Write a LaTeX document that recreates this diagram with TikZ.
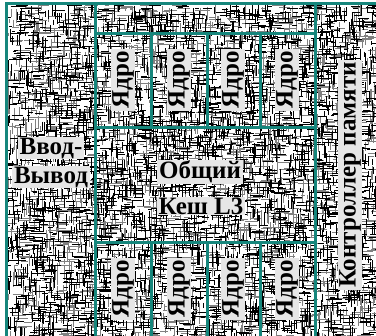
\documentclass[tikz,border=0pt]{standalone}
\usepackage{fontspec}
\setmainfont{Liberation Serif}
\usepackage{tikz}
\usetikzlibrary{positioning}
\definecolor{dieteal}{RGB}{22,134,124}
\definecolor{labgray}{RGB}{230,230,230}
\tikzset{
  wall/.style={draw=dieteal,line width=3pt},
  lab/.style={fill=labgray,inner xsep=2pt,inner ysep=1pt,
              font=\bfseries\fontsize{25}{28}\selectfont},
  vlab/.style={lab,rotate=90},
  grain/.style={line width=0.65pt},
}
\pgfmathsetseed{7}

\begin{document}
\begin{tikzpicture}[x=1pt,y=-1pt]
    \useasboundingbox (0,0) rectangle (376,336);
    % die texture
    \begin{scope}
      \clip (6,4) rectangle (376,336);
      \fill[white] (6,4) rectangle (376,336);
      \draw[grain,black!50] foreach \i in {1,...,2200} {
        ({6+370*rnd},{4+332*rnd}) -- ++({3+12*rnd},0)
        ({6+370*rnd},{4+332*rnd}) -- ++(0,{3+12*rnd}) };
      \draw[grain,black] foreach \i in {1,...,2600} {
        ({6+370*rnd},{4+332*rnd}) -- ++({3+11*rnd},0)
        ({6+370*rnd},{4+332*rnd}) -- ++(0,{3+11*rnd}) };
    \end{scope}
    % block walls
    \draw[wall] (6,336) -- (6,4) -- (376,4);
    \draw[wall] (95,4) -- (95,336);
    \draw[wall] (315,4) -- (315,336);
    \draw[wall] (95,34) -- (315,34);
    \draw[wall] (95,128) -- (315,128);
    \draw[wall] (95,243) -- (315,243);
    \foreach \x in {151,207,260} {
      \draw[wall] (\x,34) -- (\x,128);
      \draw[wall] (\x,243) -- (\x,336);
    }
    % labels
    \foreach \x [count=\k] in {123,179,233,287} {
      \node[vlab] (top\k) at (\x,80) {Ядро};
      \node[vlab] (bot\k) at (\x,289) {Ядро};
    }
    \node[lab] (io1) at (51,148) {Ввод-};
    \node[lab] (io2) at (51,177) {Вывод};
    \node[lab] (l3a) at (200,172) {Общий};
    \node[lab] (l3b) at (201,206) {Кеш L3};
    \node[vlab] (mc) at (350,175) {Контроллер памяти};
\end{tikzpicture}
\end{document}
